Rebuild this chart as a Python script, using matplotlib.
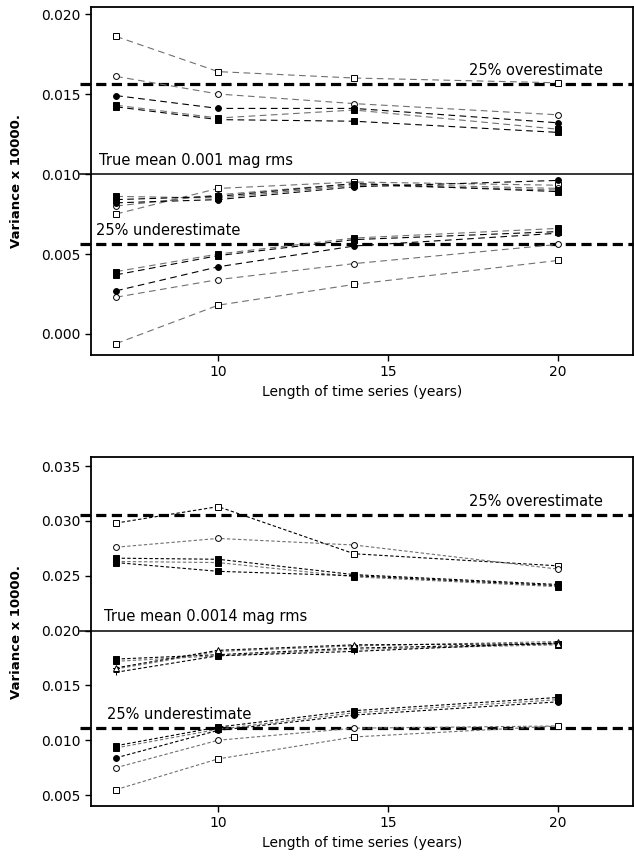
import numpy as np
import matplotlib
matplotlib.use("Agg")
import matplotlib.pyplot as plt

plt.rcParams['font.family'] = ['DejaVu Sans']

# x positions (years)
years = [7, 10, 14, 20]

# ---- Top panel: true mean 0.001 mag rms ----
top_true = 0.010
top_over = 0.015625
top_under = 0.005625

# upper group (overestimates)
top_up_osq = [0.0186, 0.0164, 0.0160, 0.0157]
top_up_oci = [0.0161, 0.0150, 0.0144, 0.0137]
top_up_fci = [0.0149, 0.0141, 0.0141, 0.0132]
top_up_fsq1 = [0.0143, 0.0135, 0.0140, 0.0128]
top_up_fsq2 = [0.0142, 0.0134, 0.0133, 0.0126]

# middle group (near true)
top_mid_osq = [0.0075, 0.0091, 0.0095, 0.0093]
top_mid_oci = [0.0080, 0.0087, 0.0094, 0.0091]
top_mid_fci = [0.0082, 0.0084, 0.0092, 0.0096]
top_mid_fsq1 = [0.0086, 0.0085, 0.0093, 0.0090]
top_mid_fsq2 = [0.0084, 0.0086, 0.0094, 0.0089]

# lower group (underestimates)
top_lo_osq = [-0.0006, 0.0018, 0.0031, 0.0046]
top_lo_oci = [0.0023, 0.0034, 0.0044, 0.0056]
top_lo_fci = [0.0027, 0.0042, 0.0055, 0.0063]
top_lo_fsq1 = [0.0039, 0.0050, 0.0060, 0.0066]
top_lo_fsq2 = [0.0037, 0.0049, 0.0059, 0.0064]

# ---- Bottom panel: true mean 0.0014 mag rms ----
bot_true = 0.0200
bot_over = 0.0305
bot_under = 0.0111

bot_up_osq = [0.0298, 0.0313, 0.0270, 0.0259]
bot_up_oci = [0.0276, 0.0284, 0.0278, 0.0256]
bot_up_fsqA = [0.0266, 0.0265, 0.0251, 0.0242]
bot_up_fsqB = [0.0263, 0.0262, 0.0249, 0.0240]
bot_up_fsqC = [0.0262, 0.0254, 0.0250, 0.0241]

bot_mid_fsqA = [0.0174, 0.0178, 0.0184, 0.0188]
bot_mid_fsqB = [0.0172, 0.0177, 0.0183, 0.0187]
bot_mid_plus = [0.0162, 0.0177, 0.0181, 0.0189]
bot_mid_star = [0.0165, 0.0181, 0.0186, 0.0190]
bot_mid_tri = [0.0166, 0.0182, 0.0187, 0.0188]

bot_lo_fsqA = [0.0095, 0.0112, 0.0127, 0.0139]
bot_lo_fsqB = [0.0093, 0.0110, 0.0125, 0.0137]
bot_lo_fci = [0.0084, 0.0109, 0.0123, 0.0135]
bot_lo_oci = [0.0075, 0.0100, 0.0111, 0.0113]
bot_lo_osq = [0.0055, 0.0083, 0.0103, 0.0113]

GRAY = "#707070"


def series(ax, y, marker, filled, color, dash, ms=4.2):
    ax.plot(years, y, color=color, lw=0.8, linestyle=dash,
            marker=marker, markersize=ms,
            markerfacecolor="black" if filled else "white",
            markeredgecolor="black", markeredgewidth=0.7, zorder=3)


def refline(ax, y, xl, solid=False):
    x0 = xl[0] - 0.33
    if solid:
        ax.plot([x0, xl[1]], [y, y], color="black", lw=1.1, clip_on=False, zorder=2)
    else:
        ax.plot([x0, xl[1]], [y, y], color="black", lw=2.3,
                linestyle=(0, (3.2, 1.7)), clip_on=False, zorder=2)


def style_axes(ax, yt, ylim, xlim):
    ax.set_xlim(xlim)
    ax.set_ylim(ylim)
    ax.set_xticks([10, 15, 20])
    ax.set_yticks(yt)
    ax.set_yticklabels([f"{v:.3f}" for v in yt])
    for s in ax.spines.values():
        s.set_linewidth(1.3)
    ax.tick_params(direction="out", length=4, width=1.0, labelsize=10,
                   top=False, right=False)
    ax.set_xlabel("Length of time series (years)", fontsize=10, labelpad=4)
    ax.set_ylabel("Variance x 10000.", fontsize=9.5, fontweight="bold", labelpad=13)


fig = plt.figure(figsize=(6.34, 8.63), dpi=100)
ax1 = fig.add_axes([0.1435, 0.5887, 0.855, 0.4032])
ax2 = fig.add_axes([0.1435, 0.066, 0.855, 0.4044])

xl = (6.26, 22.2)

# top panel
d1 = (0, (6, 4))
for grp in [(top_up_osq, top_up_oci, top_up_fci, top_up_fsq1, top_up_fsq2),
            (top_mid_osq, top_mid_oci, top_mid_fci, top_mid_fsq1, top_mid_fsq2),
            (top_lo_osq, top_lo_oci, top_lo_fci, top_lo_fsq1, top_lo_fsq2)]:
    osq, oci, fci, fs1, fs2 = grp
    series(ax1, osq, "s", False, GRAY, d1)
    series(ax1, oci, "o", False, GRAY, d1)
    series(ax1, fci, "o", True, "black", d1)
    series(ax1, fs1, "s", True, GRAY, d1, ms=4.8)
    series(ax1, fs2, "s", True, "black", d1, ms=4.8)

refline(ax1, top_true, xl, solid=True)
refline(ax1, top_over, xl)
refline(ax1, top_under, xl)
ax1.text(0.945, top_over + 0.0004, "25% overestimate", fontsize=10.5,
         ha="right", va="bottom", transform=ax1.get_yaxis_transform())
ax1.text(6.5, top_true + 0.0004, "True mean 0.001 mag rms", fontsize=10.5,
         ha="left", va="bottom")
ax1.text(6.4, top_under + 0.0004, "25% underestimate", fontsize=10.5,
         ha="left", va="bottom")
style_axes(ax1, [0.000, 0.005, 0.010, 0.015, 0.020], (-0.00131, 0.02044), xl)

# bottom panel
d2 = (0, (3, 2))
series(ax2, bot_up_osq, "s", False, "black", d2)
series(ax2, bot_up_oci, "o", False, GRAY, d2)
series(ax2, bot_up_fsqA, "s", True, "black", d2, ms=4.8)
series(ax2, bot_up_fsqB, "s", True, GRAY, d2, ms=4.8)
series(ax2, bot_up_fsqC, "s", True, "black", d2, ms=4.8)

series(ax2, bot_mid_fsqA, "s", True, "black", d2, ms=4.8)
series(ax2, bot_mid_fsqB, "s", True, GRAY, d2, ms=4.8)
series(ax2, bot_mid_plus, "+", False, "black", d2, ms=5)
series(ax2, bot_mid_star, "*", False, GRAY, d2, ms=5)
series(ax2, bot_mid_tri, "^", False, "black", d2)

series(ax2, bot_lo_fsqA, "s", True, "black", d2, ms=4.8)
series(ax2, bot_lo_fsqB, "s", True, GRAY, d2, ms=4.8)
series(ax2, bot_lo_fci, "o", True, "black", d2)
series(ax2, bot_lo_oci, "o", False, GRAY, d2)
series(ax2, bot_lo_osq, "s", False, GRAY, d2)

refline(ax2, bot_true, xl, solid=True)
refline(ax2, bot_over, xl)
refline(ax2, bot_under, xl)
ax2.text(0.945, bot_over + 0.0006, "25% overestimate", fontsize=10.5,
         ha="right", va="bottom", transform=ax2.get_yaxis_transform())
ax2.text(6.65, bot_true + 0.0006, "True mean 0.0014 mag rms", fontsize=10.5,
         ha="left", va="bottom")
ax2.text(6.72, bot_under + 0.0006, "25% underestimate", fontsize=10.5,
         ha="left", va="bottom")
style_axes(ax2, [0.005, 0.010, 0.015, 0.020, 0.025, 0.030, 0.035], (0.0040, 0.03582), xl)

fig.savefig("out.png", dpi=100)
